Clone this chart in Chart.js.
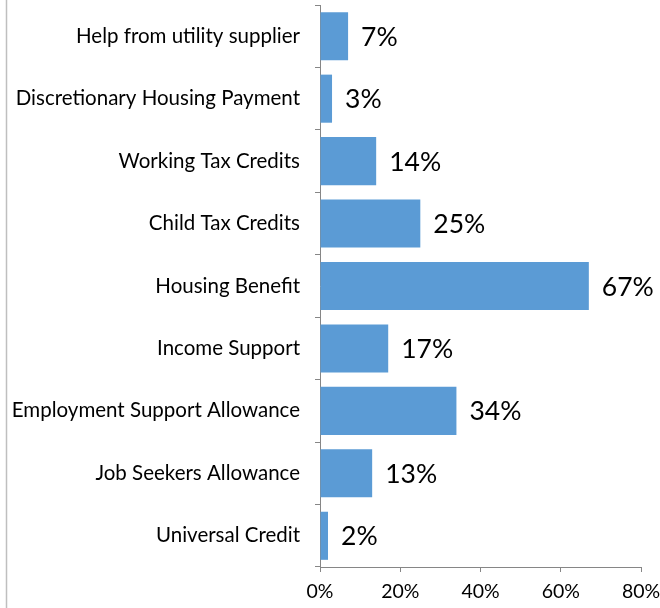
<!DOCTYPE html>
<html>
<head>
    <title>Benefits received</title>
    <script src="https://cdn.jsdelivr.net/npm/chart.js"></script>
    <style>
        body { margin: 0; background: #fff; }
        #wrap { position: relative; width: 660px; height: 608px; }
    </style>
</head>
<body>
    <div id="wrap"><canvas id="benefitChart" width="660" height="608"></canvas></div>

    <script>
        const categories = [
            'Help from utility supplier',
            'Discretionary Housing Payment',
            'Working Tax Credits',
            'Child Tax Credits',
            'Housing Benefit',
            'Income Support',
            'Employment Support Allowance',
            'Job Seekers Allowance',
            'Universal Credit'
        ];
        const percentages = [7, 3, 14, 25, 67, 17, 34, 13, 2];
        const xTicks = [0, 20, 40, 60, 80];

        const axisGrey = '#868686';

        // value labels to the right of each bar
        const valueLabels = {
            id: 'valueLabels',
            afterDatasetsDraw(chart) {
                const c = chart.ctx;
                const meta = chart.getDatasetMeta(0);
                c.save();
                c.font = '26.5px Lato';
                c.fillStyle = '#000';
                c.textBaseline = 'middle';
                c.textAlign = 'left';
                meta.data.forEach((bar, i) => {
                    c.fillText(percentages[i] + '%', bar.x + 13, bar.y + 1);
                });
                c.restore();
            }
        };

        // thin frame line down the left side
        const leftEdge = {
            id: 'leftEdge',
            afterDraw(chart) {
                const c = chart.ctx;
                c.save();
                c.strokeStyle = '#bfbfbf';
                c.lineWidth = 1.5;
                c.beginPath();
                c.moveTo(6.5, 0);
                c.lineTo(6.5, chart.height);
                c.stroke();
                c.restore();
            }
        };

        const ctx = document.getElementById('benefitChart').getContext('2d');
        new Chart(ctx, {
            type: 'bar',
            data: {
                labels: categories,
                datasets: [{
                    data: percentages,
                    backgroundColor: '#5b9bd5',
                    barPercentage: 0.77,
                    categoryPercentage: 1
                }]
            },
            options: {
                indexAxis: 'y',
                responsive: false,
                animation: false,
                layout: { padding: { top: 5, right: 19, left: 0, bottom: 0 } },
                plugins: {
                    legend: { display: false },
                    tooltip: { enabled: false }
                },
                scales: {
                    x: {
                        min: 0,
                        max: 80,
                        afterBuildTicks: (scale) => {
                            scale.ticks = xTicks.map(v => ({ value: v }));
                        },
                        afterFit: (scale) => {
                            scale.height = 41;
                            scale.paddingLeft = 0;
                            scale.paddingRight = 0;
                        },
                        ticks: {
                            callback: (v) => v + '%',
                            color: '#000',
                            font: { family: 'Lato', size: 19.5 },
                            padding: 8,
                            maxRotation: 0
                        },
                        grid: {
                            drawOnChartArea: false,
                            tickLength: 5,
                            color: axisGrey
                        },
                        border: { color: axisGrey, width: 1 }
                    },
                    y: {
                        afterFit: (scale) => {
                            scale.width = 320;
                            scale.paddingTop = 0;
                            scale.paddingBottom = 0;
                        },
                        ticks: {
                            color: '#000',
                            font: { family: 'Lato', size: 20.5 },
                            padding: 15
                        },
                        grid: {
                            offset: true,
                            drawOnChartArea: false,
                            tickLength: 5,
                            color: axisGrey
                        },
                        border: { color: axisGrey, width: 1 }
                    }
                }
            },
            plugins: [valueLabels, leftEdge]
        });
    </script>
</body>
</html>
